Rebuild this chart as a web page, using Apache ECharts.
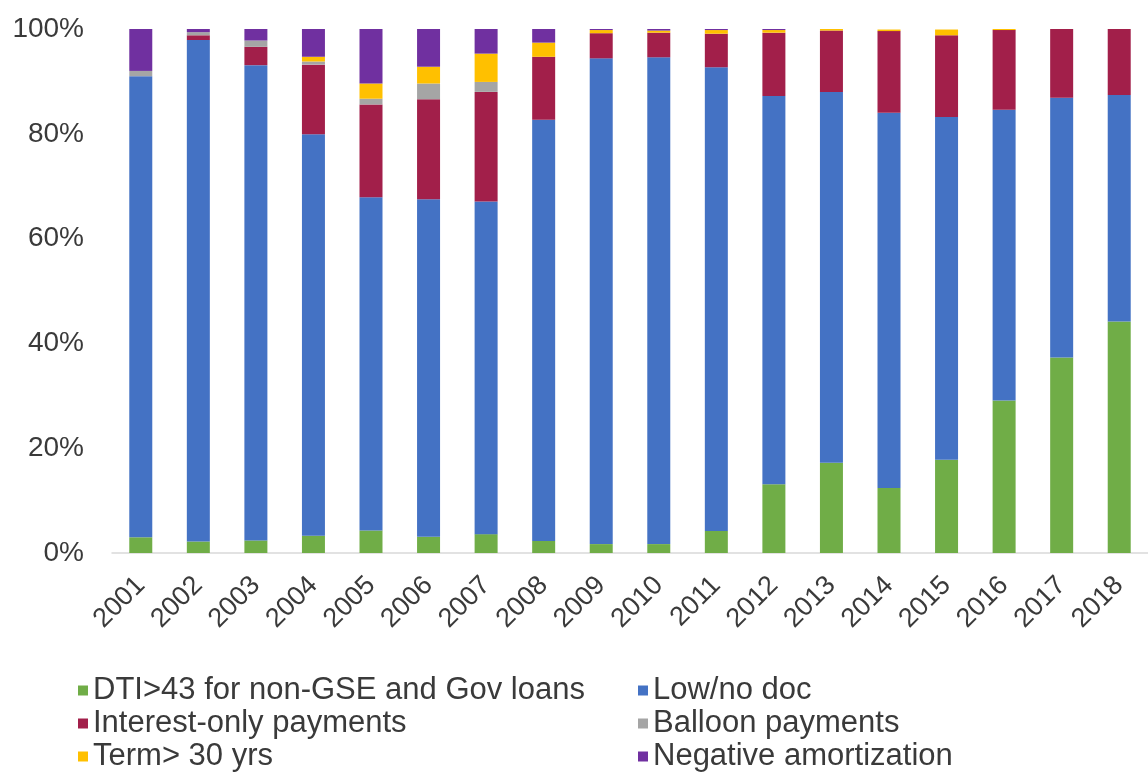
<!DOCTYPE html>
<html>
<head>
<meta charset="utf-8">
<title>Risky loan features, 2001–2018</title>
<script src="https://cdn.jsdelivr.net/npm/echarts@6/dist/echarts.min.js"></script>
<style>
  html, body { margin: 0; padding: 0; background: #ffffff; }
  #chart { width: 1148px; height: 777px; }
</style>
</head>
<body>
<div id="chart"></div>
<script>
// Share of loans with each feature, by origination year (percent)
const years = ['2001','2002','2003','2004','2005','2006','2007','2008','2009',
               '2010','2011','2012','2013','2014','2015','2016','2017','2018'];
const dti          = [3.0, 2.2, 2.4, 3.3, 4.3, 3.1, 3.6, 2.3, 1.7, 1.7, 4.2, 13.1, 17.2, 12.4, 17.8, 29.1, 37.3, 44.2];
const lowDoc       = [88.0, 95.7, 90.7, 76.6, 63.6, 64.4, 63.5, 80.4, 92.7, 92.9, 88.5, 74.1, 70.8, 71.6, 65.4, 55.5, 49.6, 43.2];
const interestOnly = [0, 0.9, 3.5, 13.3, 17.7, 19.1, 20.9, 12.0, 4.8, 4.7, 6.4, 12.1, 11.7, 15.6, 15.6, 15.2, 13.1, 12.6];
const balloon      = [1.0, 0.6, 1.2, 0.6, 1.1, 3.0, 1.9, 0, 0, 0, 0, 0, 0, 0, 0, 0, 0, 0];
const term30       = [0, 0, 0, 0.9, 2.9, 3.2, 5.4, 2.7, 0.6, 0.4, 0.7, 0.5, 0.3, 0.3, 1.1, 0.3, 0, 0];
const negAm        = [8.0, 0.6, 2.2, 5.3, 10.4, 7.2, 4.7, 2.6, 0.2, 0.3, 0.2, 0.2, 0, 0, 0, 0, 0, 0];

const seriesNames = [
  'DTI>43 for non-GSE and Gov loans',
  'Low/no doc',
  'Interest-only payments',
  'Balloon payments',
  'Term> 30 yrs',
  'Negative amortization'
];
const seriesData = [dti, lowDoc, interestOnly, balloon, term30, negAm];
const colors = ['#70AD47', '#4472C4', '#A21F4A', '#A5A5A5', '#FFC000', '#7030A0'];

const FONT = '"Liberation Sans", Arial, sans-serif';
const TEXT = '#3a3a3a';

const legendText = { fontFamily: FONT, fontSize: 31, color: TEXT, lineHeight: 31 };
const legendCommon = {
  orient: 'vertical',
  top: 670,
  icon: 'rect',
  itemWidth: 10,
  itemHeight: 10,
  itemGap: 2,
  selectedMode: false,
  textStyle: legendText
};

const chart = echarts.init(document.getElementById('chart'), null, { renderer: 'canvas' });
chart.setOption({
  animation: false,
  backgroundColor: '#ffffff',
  color: colors,
  grid: { left: 112, right: -5, top: 29, bottom: 224, containLabel: false },
  legend: [
    Object.assign({ left: 73, data: [seriesNames[0], seriesNames[2], seriesNames[4]] }, legendCommon),
    Object.assign({ left: 633, data: [seriesNames[1], seriesNames[3], seriesNames[5]] }, legendCommon)
  ],
  xAxis: {
    type: 'category',
    data: years,
    axisLine: { show: true, lineStyle: { color: '#d9d9d9', width: 1.5 } },
    axisTick: { show: false },
    axisLabel: {
      rotate: 45,
      margin: 28,
      interval: 0,
      fontFamily: FONT,
      fontSize: 27,
      color: TEXT
    }
  },
  yAxis: {
    type: 'value',
    min: 0,
    max: 100,
    interval: 20,
    axisLine: { show: false },
    axisTick: { show: false },
    splitLine: { show: false },
    axisLabel: {
      formatter: '{value}%',
      margin: 28,
      fontFamily: FONT,
      fontSize: 28,
      color: TEXT
    }
  },
  series: seriesNames.map((name, i) => ({
    name: name,
    type: 'bar',
    stack: 'total',
    barWidth: 23,
    data: seriesData[i],
    itemStyle: { color: colors[i] }
  }))
});
</script>
</body>
</html>
